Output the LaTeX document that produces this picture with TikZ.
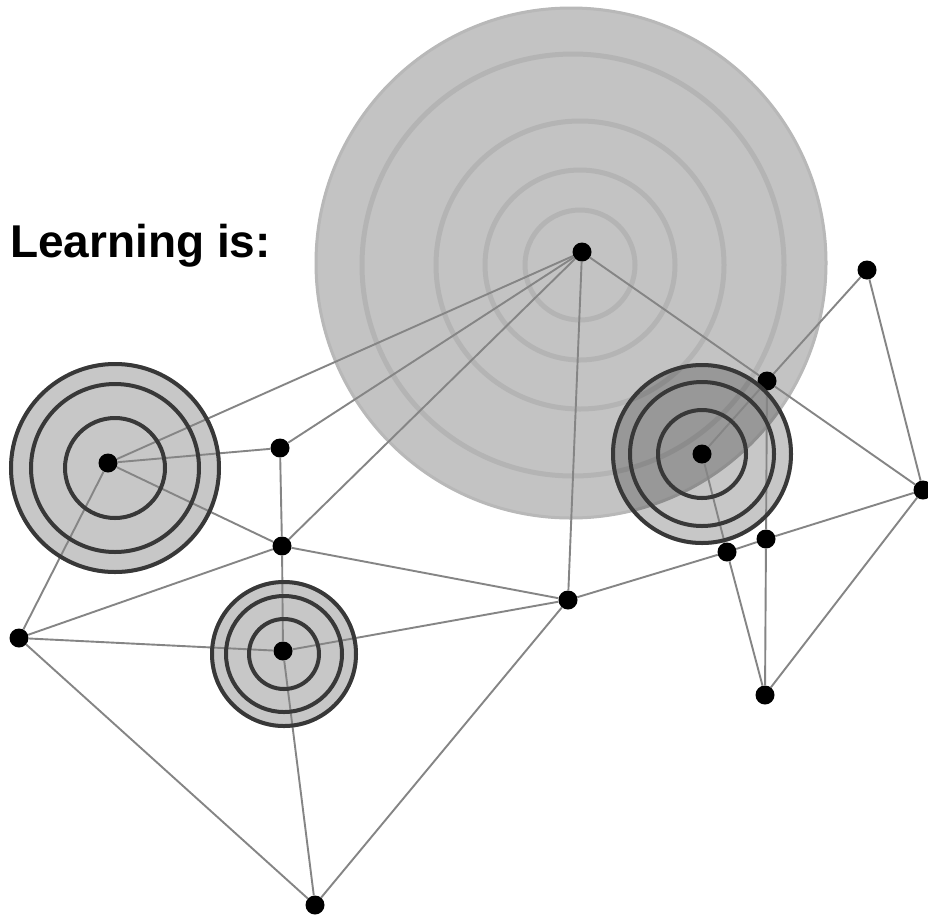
\documentclass[tikz,border=0pt]{standalone}
\usepackage{fontspec}
\setmainfont{Liberation Sans}
\usepackage{tikz}
\usetikzlibrary{positioning}

\definecolor{diskgray}{HTML}{C3C3C3}
\definecolor{wavegray}{HTML}{B4B4B4}
\definecolor{linkgray}{HTML}{858585}
\definecolor{ringgray}{HTML}{383838}

\begin{document}
\begin{tikzpicture}[
    x=1pt, y=-1pt,
    dot/.style={circle, fill=black, inner sep=0pt, minimum size=19pt},
    link/.style={draw=linkgray, line width=1.9pt},
    wave/.style={draw=wavegray, line width=5pt},
    target/.style={fill=black, fill opacity=0.22},
    ring/.style={draw=ringgray, line width=4pt}
]
  \useasboundingbox[fill=white] (0,0) rectangle (928,919);

  % big spreading disk
  \fill[diskgray] (571,263) circle[radius=256];
  \draw[draw=black!28, line width=3pt] (571,263) circle[radius=255];
  \foreach \r in {55,95,144} \draw[wave] (580,265) circle[radius=\r];
  \draw[wave] (573,265) circle[radius=211];

  % targets
  \fill[target] (115,468) circle[radius=106];
  \fill[target] (284,654) circle[radius=74];
  \fill[target] (702,454) circle[radius=91];

  \node[font=\bfseries\fontsize{46}{55}\selectfont, anchor=base west, inner sep=0pt] (title) at (10,257) {Learning is:};

  \node[dot] (top) at (582,252) {};
  \node[dot] (lt) at (108,463) {};
  \node[dot] (n1) at (280,448) {};
  \node[dot] (n2) at (282,546) {};
  \node[dot] (far) at (19,638) {};
  \node[dot] (lw) at (283,651) {};
  \node[dot] (mid) at (568,600) {};
  \node[dot] (bot) at (315,905) {};
  \node[dot] (rt) at (702,454) {};
  \node[dot] (q) at (767,381) {};
  \node[dot] (tr) at (867,270) {};
  \node[dot] (rr) at (923,490) {};
  \node[dot] (s1) at (727,552) {};
  \node[dot] (s2) at (766,539) {};
  \node[dot] (br) at (765,695) {};

  \draw[link] (top) -- (lt);
  \draw[link] (top) -- (n1);
  \draw[link] (top) -- (n2);
  \draw[link] (top) -- (mid);
  \draw[link] (top) -- (q);
  \draw[link] (lt) -- (n1);
  \draw[link] (lt) -- (n2);
  \draw[link] (lt) -- (far);
  \draw[link] (n1) -- (n2);
  \draw[link] (n2) -- (far);
  \draw[link] (n2) -- (mid);
  \draw[link] (n2) -- (lw);
  \draw[link] (far) -- (lw);
  \draw[link] (far) -- (bot);
  \draw[link] (lw) -- (mid);
  \draw[link] (lw) -- (bot);
  \draw[link] (mid) -- (bot);
  \draw[link] (mid) -- (s1);
  \draw[link] (s1) -- (s2);
  \draw[link] (s2) -- (rr);
  \draw[link] (rt) -- (q);
  \draw[link] (q) -- (tr);
  \draw[link] (q) -- (rr);
  \draw[link] (q) -- (s2);
  \draw[link] (s2) -- (br);
  \draw[link] (rt) -- (s1);
  \draw[link] (s1) -- (br);
  \draw[link] (tr) -- (rr);
  \draw[link] (rr) -- (br);

  % rings on top of the links
  \foreach \r in {104,84,50} \draw[ring] (115,468) circle[radius=\r];
  \foreach \r in {72,58,35} \draw[ring] (284,654) circle[radius=\r];
  \foreach \r in {89,72,44} \draw[ring] (702,454) circle[radius=\r];
\end{tikzpicture}
\end{document}
